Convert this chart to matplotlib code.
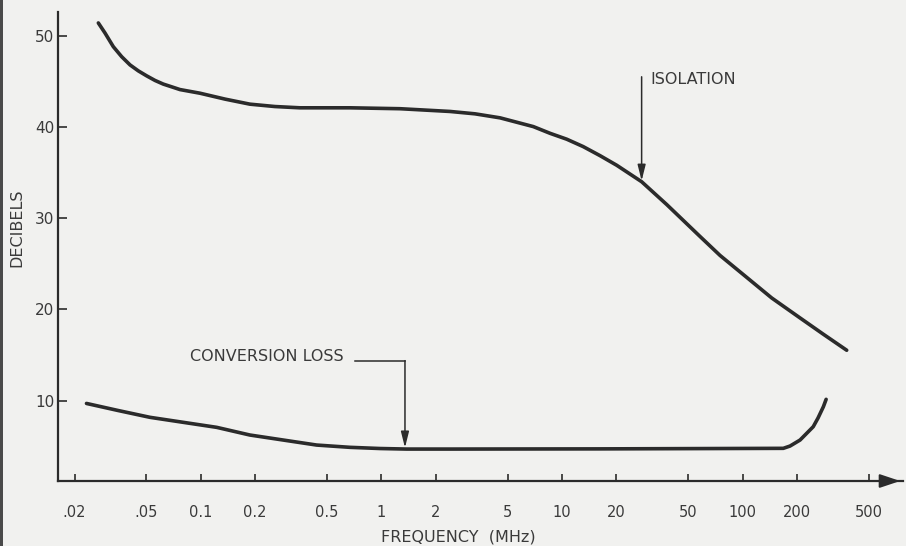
import numpy as np
import matplotlib
matplotlib.use("Agg")
import matplotlib.pyplot as plt
from matplotlib.ticker import FixedLocator, FixedFormatter, NullLocator

# values
iso_freq = [0.0271, 0.0295, 0.0328, 0.0365, 0.0406, 0.0451, 0.0502, 0.0558,
            0.062, 0.069, 0.0767, 0.099, 0.1365, 0.187, 0.2575, 0.354,
            0.67, 1.27, 2.4, 3.30, 4.54, 6.94, 8.6, 10.62, 13.1, 16.23, 20.1,
            27.6, 38.0, 58.1, 75.0, 103.1, 144.9, 208, 278.7, 377]
iso_db = [51.4, 50.3, 48.8, 47.7, 46.8, 46.15, 45.6, 45.1,
          44.7, 44.4, 44.1, 43.7, 43.05, 42.5, 42.24, 42.1,
          42.1, 42.0, 41.7, 41.44, 41.0, 40.04, 39.3, 38.66, 37.85, 36.86, 35.8,
          34.0, 31.5, 28.0, 25.92, 23.67, 21.26, 19.07, 17.31, 15.53]

cl_freq = [0.0233, 0.0348, 0.0523, 0.08, 0.1225, 0.187, 0.286, 0.438, 0.67,
           0.982, 1.38, 2.4, 16, 168, 183, 208, 224.4, 246, 261.5, 280, 290]
cl_db = [9.7, 8.93, 8.18, 7.63, 7.08, 6.24, 5.69, 5.14, 4.89,
         4.76, 4.70, 4.70, 4.72, 4.78, 5.03, 5.69, 6.35, 7.15, 8.1, 9.34, 10.15]

x_ticks = [0.02, 0.05, 0.1, 0.2, 0.5, 1, 2, 5, 10, 20, 50, 100, 200, 500]
x_labels = [".02", ".05", "0.1", "0.2", "0.5", "1", "2", "5", "10", "20",
            "50", "100", "200", "500"]
y_ticks = [10, 20, 30, 40, 50]

ink = "#2b2b2b"
txt = "#3a3a3a"
paper = "#f1f1ef"

fig = plt.figure(figsize=(9.06, 5.46), dpi=100, facecolor=paper)
ax = fig.add_axes([57.7 / 906, 65 / 546, (903 - 57.7) / 906, (481 - 12) / 546])
ax.set_facecolor(paper)

ax.plot(iso_freq, iso_db, color=ink, lw=2.6, solid_capstyle="round",
        solid_joinstyle="round")
ax.plot(cl_freq, cl_db, color=ink, lw=2.6, solid_capstyle="round",
        solid_joinstyle="round")

ax.set_xscale("log")
ax.set_xlim(10 ** -1.792, 10 ** 2.888)
ax.set_ylim(1.2, 52.6)

for s in ["top", "right"]:
    ax.spines[s].set_visible(False)
for s in ["left", "bottom"]:
    ax.spines[s].set_color(ink)
    ax.spines[s].set_linewidth(1.6)

ax.xaxis.set_major_locator(FixedLocator(x_ticks))
ax.xaxis.set_major_formatter(FixedFormatter(x_labels))
ax.xaxis.set_minor_locator(NullLocator())
ax.set_yticks(y_ticks)
ax.set_yticklabels([str(v) for v in y_ticks])

ax.tick_params(axis="x", direction="in", length=5, width=1.2, color=ink,
               pad=17, labelsize=10.5, labelcolor=txt)
ax.tick_params(axis="y", direction="in", length=6.5, width=1.2, color=ink,
               pad=2.5, labelsize=11, labelcolor=txt)

# arrow head at the end of the frequency axis
ax.annotate("", xy=(903 / 906, 65 / 546), xytext=(885 / 906, 65 / 546),
            xycoords="figure fraction", textcoords="figure fraction",
            arrowprops=dict(arrowstyle="-|>,head_length=0.9,head_width=0.3",
                            color=ink, lw=1.4, mutation_scale=14))

fig.text(458 / 906, 1 - 537 / 546, "FREQUENCY  (MHz)", ha="center",
         va="center", fontsize=11.5, color=txt)
fig.text(17 / 906, 1 - 228 / 546, "DECIBELS", ha="center", va="center",
         rotation=90, fontsize=11.5, color=txt)

# callouts
arrow_kw = dict(arrowstyle="-|>,head_length=0.8,head_width=0.2", color=ink,
                lw=1.1, mutation_scale=12, shrinkA=0, shrinkB=0)
ax.text(30.7, 45.2, "ISOLATION", ha="left", va="center", fontsize=11.5,
        color=txt)
ax.annotate("", xy=(27.6, 34.1), xytext=(27.6, 45.5), arrowprops=arrow_kw)

ax.text(0.0871, 14.8, "CONVERSION LOSS", ha="left", va="center",
        fontsize=11.5, color=txt)
ax.plot([0.714, 1.351], [14.39, 14.39], color=ink, lw=1.1)
ax.annotate("", xy=(1.351, 4.85), xytext=(1.351, 14.39), arrowprops=arrow_kw)

# dark scan edge on the left
fig.add_artist(plt.Rectangle((0, 0), 3 / 906, 1, transform=fig.transFigure,
                             color="#4a4a4a", lw=0))

fig.savefig("out.png", dpi=100, facecolor=paper)
